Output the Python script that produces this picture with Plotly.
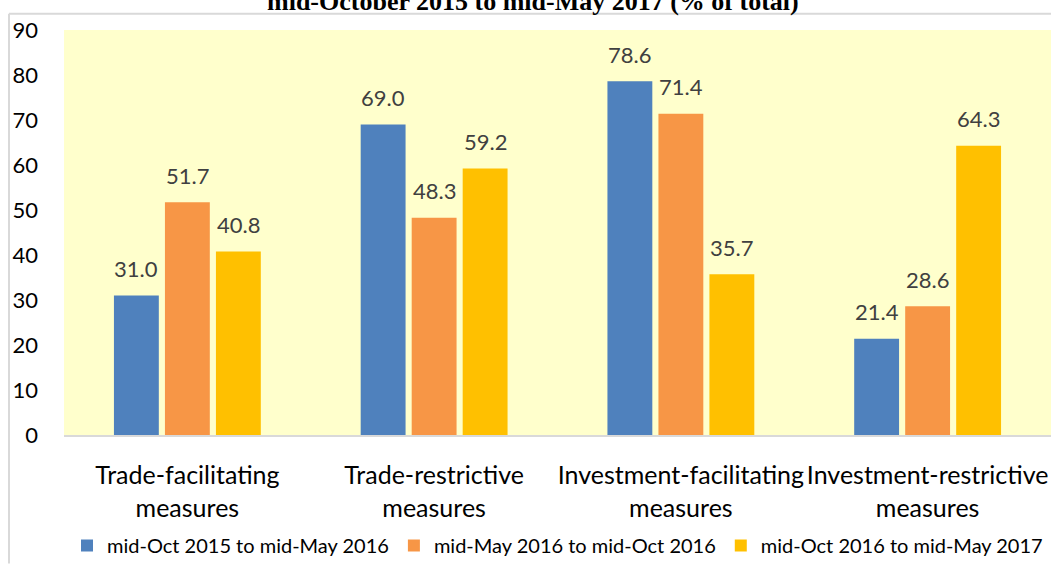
import plotly.graph_objects as go

categories = ["Trade-facilitating<br>measures", "Trade-restrictive<br>measures",
              "Investment-facilitating<br>measures", "Investment-restrictive<br>measures"]
series_names = ["mid-Oct 2015 to mid-May 2016", "mid-May 2016 to mid-Oct 2016",
                "mid-Oct 2016 to mid-May 2017"]
s1 = [31.0, 69.0, 78.6, 21.4]
s2 = [51.7, 48.3, 71.4, 28.6]
s3 = [40.8, 59.2, 35.7, 64.3]
colors = ["#4F81BD", "#F79646", "#FFC000"]
y_ticks = [0, 10, 20, 30, 40, 50, 60, 70, 80, 90]
title_text = "mid-October 2015 to mid-May 2017 (% of total)"

FONT = "Lato"
W, H = 1051, 565
L, R, T, B = 64, 0, 30, 125
pw, ph = W - L - R, H - T - B
BARGAP, GROUPGAP = 0.38, 0.12
slot = pw / 4 * (1 - BARGAP) / 3


def px2x(p):
    return (p - L) / pw


def px2y(p):
    return (H - B - p) / ph


fig = go.Figure()
annots = []
for i, (name, vals, col) in enumerate(zip(series_names, [s1, s2, s3], colors)):
    fig.add_trace(go.Bar(
        x=categories, y=vals, name=name, marker_color=col,
        marker_line_width=0,
    ))
    for c, v in zip(categories, vals):
        annots.append(dict(x=c, y=v, xref="x", yref="y", text=f"{v:.1f}",
                           showarrow=False, xanchor="center", yanchor="middle",
                           xshift=(i - 1) * slot, yshift=27,
                           font=dict(family=FONT, size=22, color="#404040")))

annots.append(dict(text="<b>" + title_text + "</b>", xref="paper", yref="paper",
                   x=px2x(533), y=px2y(1), xanchor="center", yanchor="middle",
                   showarrow=False,
                   font=dict(family="Liberation Serif", size=26, color="black")))

fig.update_layout(
    width=W, height=H,
    margin=dict(l=L, r=R, t=T, b=B, pad=0),
    paper_bgcolor="white", plot_bgcolor="#FFFFCC",
    barmode="group", bargap=BARGAP, bargroupgap=GROUPGAP,
    font=dict(family=FONT, color="black"),
    showlegend=True,
    legend=dict(orientation="h", x=0.5, xanchor="center", y=px2y(552), yanchor="middle",
                font=dict(family=FONT, size=20, color="black"),
                itemwidth=30, tracegroupgap=0, bgcolor="rgba(0,0,0,0)"),
    xaxis=dict(showgrid=False, showline=True, linecolor="#D9D9D9", linewidth=2,
               ticks="", tickfont=dict(family=FONT, size=25, color="black"),
               range=[-0.5, 3.5], ticklabelstandoff=17),
    yaxis=dict(range=[0, 90], tickvals=y_ticks, showgrid=False, showline=False,
               zeroline=False, ticks="", tickfont=dict(family=FONT, size=22, color="black"),
               ticklabelstandoff=25),
    annotations=annots,
    shapes=[
        dict(type="line", xref="paper", yref="paper", x0=px2x(9), x1=px2x(1060),
             y0=px2y(13.5), y1=px2y(13.5), line=dict(color="#D9D9D9", width=2)),
        dict(type="line", xref="paper", yref="paper", x0=px2x(9), x1=px2x(9),
             y0=px2y(13.5), y1=px2y(570), line=dict(color="#D9D9D9", width=2)),
    ],
)
fig.write_html("out.html", config={"displayModeBar": False},
               post_script="document.body.style.margin='0';document.body.style.overflow='hidden';")
